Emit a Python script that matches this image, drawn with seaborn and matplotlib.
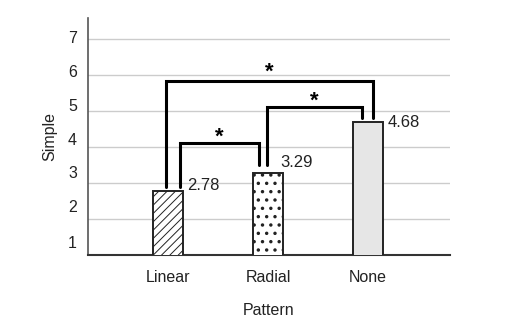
import matplotlib
matplotlib.use("Agg")
import matplotlib.pyplot as plt
import matplotlib.transforms as mtransforms
import seaborn as sns
import pandas as pd

categories = ["Linear", "Radial", "None"]
values = [2.78, 3.29, 4.68]
value_labels = ["2.78", "3.29", "4.68"]
yticks = [1, 2, 3, 4, 5, 6, 7]
# significance brackets: (left category index, right category index, star)
pairs = [(0, 1, "*"), (1, 2, "*"), (0, 2, "*")]

sns.set_theme(style="white")
plt.rcParams["font.family"] = ["Liberation Sans", "DejaVu Sans"]
plt.rcParams["hatch.linewidth"] = 0.7

fig = plt.figure(figsize=(5.19, 3.27), dpi=100)
ax = fig.add_axes([0.1696, 0.2202, 0.6974, 0.7248])

df = pd.DataFrame({"Pattern": categories, "Simple": values})
sns.barplot(data=df, x="Pattern", y="Simple", ax=ax, width=0.3,
            color="white", edgecolor="black", linewidth=1.4, zorder=3)

hatches = ["////", "..", ""]
faces = ["white", "white", "#e6e6e6"]
hatch_lw = [0.7, 1.25, 0.7]
for p, h, fc, hl in zip(ax.patches, hatches, faces, hatch_lw):
    p.set_hatch(h)
    p.set_facecolor(fc)
    p.set_edgecolor("#222222")
    if hasattr(p, "set_hatch_linewidth"):
        p.set_hatch_linewidth(hl)

ax.set_ylim(1, 7.58)
ax.set_xlim(-0.8, 2.82)
ax.set_yticks(yticks)
ax.yaxis.grid(True, color="#cccccc", linewidth=1.0, zorder=0)
ax.xaxis.grid(False)
ax.set_axisbelow(True)
ax.tick_params(axis="both", length=0, labelsize=11.5, colors="#222222")
ax.tick_params(axis="y", pad=8)
ax.tick_params(axis="x", pad=11)
for s in ["top", "right"]:
    ax.spines[s].set_visible(False)
ax.spines["left"].set_color("#555555")
ax.spines["bottom"].set_color("#333333")
ax.spines["left"].set_linewidth(1.2)
ax.spines["bottom"].set_linewidth(1.5)
ax.set_xlabel("Pattern", fontsize=11.5, labelpad=13, color="#222222")
ax.set_ylabel("Simple", fontsize=11.5, labelpad=8, color="#222222")

# y tick labels sit progressively above their gridlines (pixels)
tick_shift_px = [13, 13, 10.5, 8, 5.5, 3.5, 1.5]
for lab, dy in zip(ax.get_yticklabels(), tick_shift_px):
    lab.set_transform(lab.get_transform() +
                      mtransforms.ScaledTranslation(0, dy / 100, fig.dpi_scale_trans))

# value labels
label_dx = [0.19, 0.12, 0.2]
label_dy = [0.14, 0.29, 0.01]
for i, (v, t) in enumerate(zip(values, value_labels)):
    ax.text(i + label_dx[i], v + label_dy[i], t, fontsize=12, va="center",
            ha="left", color="#222222", zorder=5)

# brackets
bracket_cfg = {
    (0, 1): dict(xl=0.12, xr=0.91, top=4.11, yl=2.89, yr=3.5, s=0.24),
    (1, 2): dict(xl=0.99, xr=1.94, top=5.11, yl=3.5, yr=4.8, s=0.24),
    (0, 2): dict(xl=-0.02, xr=2.05, top=5.83, yl=2.89, yr=4.8, s=0.32),
}
for a, b, star in pairs:
    c = bracket_cfg[(a, b)]
    ax.plot([c["xl"], c["xl"], c["xr"], c["xr"]],
            [c["yl"], c["top"], c["top"], c["yr"]],
            color="black", linewidth=2.2, solid_joinstyle="miter", zorder=4)
    ax.text((c["xl"] + c["xr"]) / 2, c["top"] + c["s"], star, fontsize=16,
            fontweight="bold", ha="center", va="center_baseline", color="black")

fig.savefig("out.png", dpi=100)
